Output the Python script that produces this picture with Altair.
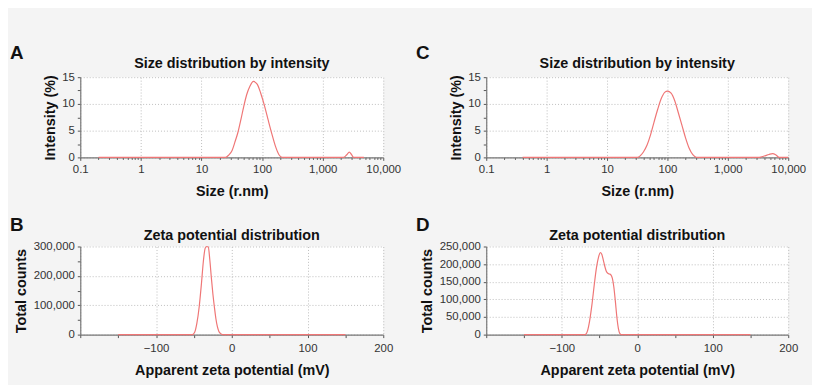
import altair as alt
import pandas as pd

# ---------------- data ----------------
# A: size distribution by intensity
size_a = [0.2, 25, 28, 32, 35.5, 40, 45, 50, 56, 63, 72, 83, 95, 110, 126, 145, 166, 190, 214,
          2200, 2500, 2750, 3000, 3250, 4800]
int_a = [0, 0, 0.4, 1.3, 2.8, 4.7, 7.2, 9.6, 11.8, 13.3, 14.2, 13.7, 12.0, 9.6, 7.0, 4.4, 2.1, 0.5, 0,
         0, 0.5, 1.0, 0.5, 0, 0]

# C: size distribution by intensity
size_c = [0.4, 32, 35.5, 40, 46, 52.5, 60, 69, 79, 91, 100, 115, 132, 151, 174, 200, 229, 263, 302,
          3300, 4000, 4800, 5500, 6200, 7100, 10000]
int_c = [0, 0, 0.3, 1.0, 2.3, 4.2, 6.6, 9.0, 11.0, 12.2, 12.4, 12.0, 10.6, 8.4, 6.0, 3.6, 1.7, 0.5, 0,
         0, 0.25, 0.55, 0.7, 0.5, 0, 0]

# B: zeta potential distribution
zeta_b = [-150, -52, -49, -46, -43, -40, -37.5, -35, -33, -31, -29, -27, -25, -23, -21, -19, -17, -15, -12, 150]
count_b = [0, 0, 8000, 40000, 95000, 175000, 250000, 295000, 300000, 298000, 255000, 195000, 140000,
           95000, 55000, 27000, 11000, 4000, 0, 0]

# D: zeta potential distribution
zeta_d = [-150, -69, -66, -63, -60, -57, -54, -51, -49, -47, -45, -43, -41, -39, -37, -35, -33, -31,
          -29, -27, -25, -23, -21, 150]
count_d = [0, 0, 10000, 40000, 85000, 140000, 190000, 222000, 233000, 228000, 212000, 194000, 180000,
           174000, 172000, 170000, 160000, 135000, 95000, 50000, 18000, 3000, 0, 0]

# axis ticks
size_ticks = [0.1, 0.2, 0.3, 0.4, 0.5, 0.6, 0.7, 0.8, 0.9,
              1, 2, 3, 4, 5, 6, 7, 8, 9,
              10, 20, 30, 40, 50, 60, 70, 80, 90,
              100, 200, 300, 400, 500, 600, 700, 800, 900,
              1000, 2000, 3000, 4000, 5000, 6000, 7000, 8000, 9000, 10000]
int_ticks = [0, 2.5, 5, 7.5, 10, 12.5, 15]
zeta_ticks = [-200, -150, -100, -50, 0, 50, 100, 150, 200]
count_ticks_b = [0, 50000, 100000, 150000, 200000, 250000, 300000]
count_ticks_d = [0, 50000, 100000, 150000, 200000, 250000]

FONT = "Liberation Sans"
LINE = "#ef7676"
GRID = "#bdbdbd"

major_test = "indexof([0.1, 1, 10, 100, 1000, 10000], datum.value) >= 0"


def size_panel(sizes, vals, letter, width, height):
    df = pd.DataFrame({"size": sizes, "intensity": vals})
    x_axis = alt.Axis(
        values=size_ticks,
        title="Size (r.nm)",
        labelFlush=False,
        labelExpr=f"{major_test} ? format(datum.value, ',') : ''",
        gridOpacity={"condition": {"test": major_test, "value": 1}, "value": 0},
        tickSize={"condition": {"test": major_test, "value": 3}, "value": 2},
    )
    y_axis = alt.Axis(
        values=int_ticks,
        title="Intensity (%)",
        labelExpr="datum.value % 5 == 0 ? format(datum.value, ',') : ''",
        gridOpacity={"condition": {"test": "datum.value % 5 == 0", "value": 1}, "value": 0},
        titlePadding=4,
    )
    line = alt.Chart(df).mark_line(color=LINE, strokeWidth=1.2, interpolate="monotone").encode(
        x=alt.X("size:Q", scale=alt.Scale(type="log", domain=[0.1, 10000]), axis=x_axis),
        y=alt.Y("intensity:Q", scale=alt.Scale(domain=[0, 15]), axis=y_axis),
    )
    lab = alt.Chart(pd.DataFrame({"t": [letter]})).mark_text(
        align="left", baseline="top", font=FONT, fontSize=19, fontWeight="bold", color="#111"
    ).encode(x=alt.value(-71), y=alt.value(-33), text="t:N")
    return alt.layer(line, lab).properties(
        width=width, height=height,
        title=alt.TitleParams(text="Size distribution by intensity", anchor="middle", frame="group",
                              offset=-38.5, baseline="alphabetic", font=FONT, fontSize=14.5,
                              fontWeight="bold", color="#111"),
    )


def zeta_panel(zeta, counts, ticks, top, letter, width, height):
    df = pd.DataFrame({"zeta": zeta, "counts": counts})
    x_axis = alt.Axis(
        values=zeta_ticks,
        title="Apparent zeta potential (mV)",
        labelFlush=False,
        labelPadding=5.5,
        labelExpr="datum.value % 100 == 0 && datum.value > -200 ? format(datum.value, ',') : ''",
        gridOpacity={"condition": {"test": "datum.value % 100 == 0", "value": 1}, "value": 0},
    )
    y_axis = alt.Axis(
        values=ticks,
        title="Total counts",
        labelExpr="format(datum.value, ',')" if top == 250000 else
        "datum.value % 100000 == 0 ? format(datum.value, ',') : ''",
        gridOpacity={"condition": {"test": "datum.value % 100000 == 0" if top == 300000 else "true",
                                   "value": 1}, "value": 0},
        titlePadding=5,
    )
    line = alt.Chart(df).mark_line(color=LINE, strokeWidth=1.2, interpolate="monotone").encode(
        x=alt.X("zeta:Q", scale=alt.Scale(domain=[-200, 200], nice=False), axis=x_axis),
        y=alt.Y("counts:Q", scale=alt.Scale(domain=[0, top], nice=False), axis=y_axis),
    )
    lab = alt.Chart(pd.DataFrame({"t": [letter]})).mark_text(
        align="left", baseline="top", font=FONT, fontSize=19, fontWeight="bold", color="#111"
    ).encode(x=alt.value(-71), y=alt.value(-31), text="t:N")
    return alt.layer(line, lab).properties(
        width=width, height=height,
        title=alt.TitleParams(text="Zeta potential distribution", anchor="middle", frame="group",
                              offset=-39, baseline="alphabetic", font=FONT, fontSize=14.5,
                              fontWeight="bold", color="#111"),
    )


pA = size_panel(size_a, int_a, "A", 306, 81)
pC = size_panel(size_c, int_c, "C", 305, 81)
pB = zeta_panel(zeta_b, count_b, count_ticks_b, 300000, "B", 306, 89)
pD = zeta_panel(zeta_d, count_d, count_ticks_d, 250000, "D", 305, 89)

chart = alt.concat(pA, pC, pB, pD, columns=2, spacing={"row": 18, "column": 15}).properties(
    padding={"left": 2, "top": 35, "right": 6, "bottom": 6},
    background="#f4f4f4",
).configure_view(
    fill="white", strokeWidth=0
).configure_axis(
    labelFont=FONT, labelFontSize=11.5, labelColor="#333", labelPadding=3.5,
    titleFont=FONT, titleFontSize=14.5, titleFontWeight="bold", titleColor="#111",
    titlePadding=9,
    domainColor="#777", domainWidth=1.2, tickColor="#555", tickSize=3,
    gridColor=GRID, gridDash=[1, 2], gridWidth=1,
).configure_axisY(labelPadding=3)

chart.save("out.html", embed_options={"renderer": "svg", "actions": False})
